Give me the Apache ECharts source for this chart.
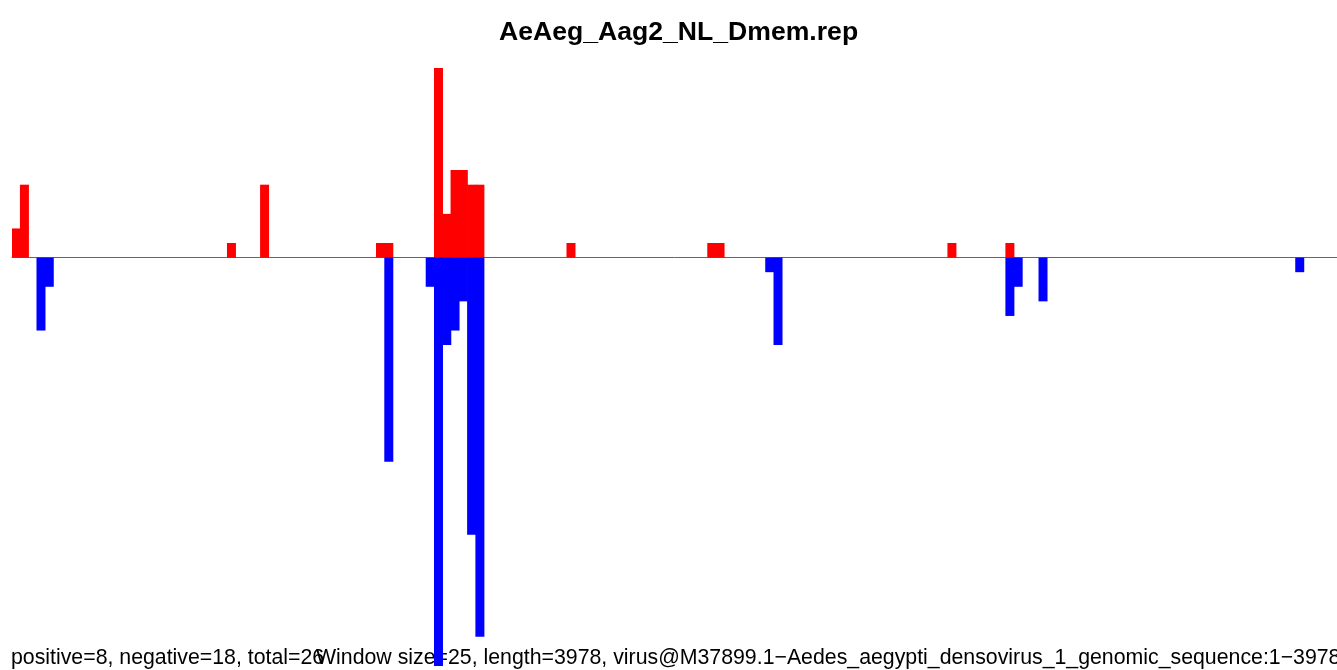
<!DOCTYPE html>
<html>
<head>
<meta charset="utf-8">
<script src="https://cdn.jsdelivr.net/npm/echarts@6/dist/echarts.min.js"></script>
<style>html,body{margin:0;padding:0;background:#fff;}#c{width:1337px;height:670px;}</style>
</head>
<body>
<div id="c"></div>
<script>
const chartTitle = "AeAeg_Aag2_NL_Dmem.rep";
const statsText = "positive=8, negative=18, total=26";
const infoText = "Window size=25, length=3978, virus@M37899.1\u2212Aedes_aegypti_densovirus_1_genomic_sequence:1\u22123978";
const windowSize = 25;
const seqLength = 3978;

// one entry per 25-nt window (160 windows)
const positiveCounts = [
  2,5,0,0,0,0,0,0,0,0,0,0,0,0,0,0,0,0,0,0,
  0,0,0,0,0,0,1,0,0,0,5,0,0,0,0,0,0,0,0,0,
  0,0,0,0,1,1,0,0,0,0,0,13,3,6,6,5,5,0,0,0,
  0,0,0,0,0,0,0,1,0,0,0,0,0,0,0,0,0,0,0,0,
  0,0,0,0,1,1,0,0,0,0,0,0,0,0,0,0,0,0,0,0,
  0,0,0,0,0,0,0,0,0,0,0,0,0,1,0,0,0,0,0,0,
  1,0,0,0,0,0,0,0,0,0,0,0,0,0,0,0,0,0,0,0,
  0,0,0,0,0,0,0,0,0,0,0,0,0,0,0,0,0,0,0,0
];
const negativeCounts = [
  0,0,0,-5,-2,0,0,0,0,0,0,0,0,0,0,0,0,0,0,0,
  0,0,0,0,0,0,0,0,0,0,0,0,0,0,0,0,0,0,0,0,
  0,0,0,0,0,-14,0,0,0,0,-2,-28,-6,-5,-3,-19,-26,0,0,0,
  0,0,0,0,0,0,0,0,0,0,0,0,0,0,0,0,0,0,0,0,
  0,0,0,0,0,0,0,0,0,0,0,-1,-6,0,0,0,0,0,0,0,
  0,0,0,0,0,0,0,0,0,0,0,0,0,0,0,0,0,0,0,0,
  -4,-2,0,0,-3,0,0,0,0,0,0,0,0,0,0,0,0,0,0,0,
  0,0,0,0,0,0,0,0,0,0,0,0,0,0,0,-1,0,0,0,0
];
const categories = positiveCounts.map((_, i) => String(i * windowSize + 1));
const skipZero = v => (v === 0 ? null : v);

const chart = echarts.init(document.getElementById('c'), null, {renderer: 'canvas'});
chart.setOption({
  animation: false,
  backgroundColor: '#ffffff',
  grid: {left: 12, width: 1328, top: 68, height: 598, containLabel: false},
  xAxis: {
    type: 'category',
    data: categories,
    axisLine: {show: true, onZero: true, lineStyle: {color: '#666666', width: 1}},
    axisTick: {show: false},
    axisLabel: {show: false},
    splitLine: {show: false}
  },
  yAxis: {
    type: 'value',
    min: -28,
    max: 13,
    show: false,
    splitLine: {show: false}
  },
  graphic: [
    {type: 'text', z: 0, x: 499, y: 33,
     style: {text: chartTitle, font: 'bold 26.6px "Liberation Sans", Arial, sans-serif', fill: '#000', verticalAlign: 'middle'}},
    {type: 'text', z: 0, x: 11, y: 658,
     style: {text: statsText, font: '21.3px "Liberation Sans", Arial, sans-serif', fill: '#000', verticalAlign: 'middle'}},
    {type: 'text', z: 0, x: 316, y: 658,
     style: {text: infoText, font: '21.3px "Liberation Sans", Arial, sans-serif', fill: '#000', verticalAlign: 'middle'}}
  ],
  series: [
    {type: 'bar', name: 'positive', data: positiveCounts.map(skipZero), z: 5,
     barWidth: 9, barGap: '-100%',
     itemStyle: {color: '#ff0000'}},
    {type: 'bar', name: 'negative', data: negativeCounts.map(skipZero), z: 5,
     barWidth: 9, barGap: '-100%',
     itemStyle: {color: '#0000ff'}}
  ]
});
</script>
</body>
</html>
